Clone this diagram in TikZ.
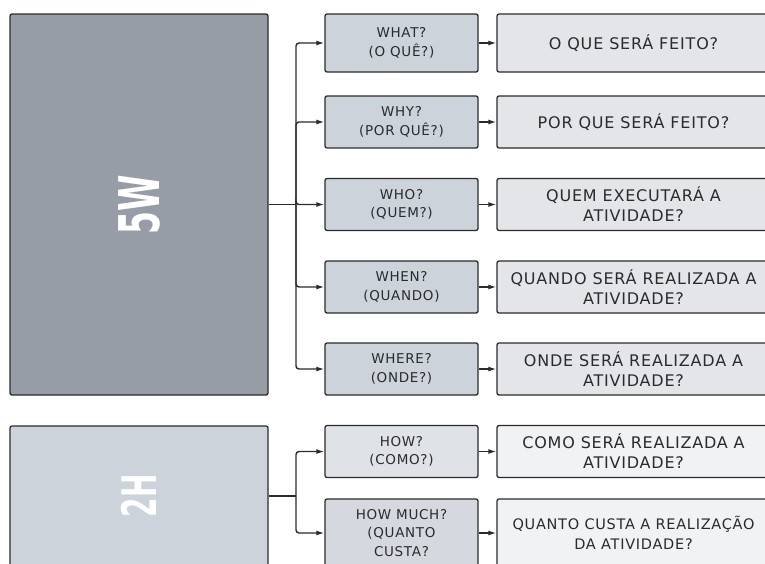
\documentclass[tikz,border=0pt]{standalone}
\usepackage{fontspec}
\setmainfont{DejaVu Sans}
\newfontfamily\comic[LetterSpace=5]{DejaVu Sans}
\usetikzlibrary{arrows.meta}
\definecolor{ink}{HTML}{2B2B2B}
\definecolor{darkfill}{HTML}{979DA6}
\definecolor{askfill}{HTML}{CDD3DB}
\definecolor{answerfill}{HTML}{E3E5E9}
\definecolor{howfill}{HTML}{DFE2E6}
\definecolor{muchfill}{HTML}{D5D9DF}
\definecolor{lightfill}{HTML}{F1F2F4}
\tikzset{
  box/.style={draw=ink, line width=1.3pt, rounded corners=2pt, text=ink, align=center, inner sep=0pt},
  big/.style={box, text=white, minimum width=258pt, font=\bfseries\fontsize{33}{33}\selectfont},
  ask/.style={box, fill=askfill, minimum width=153pt, minimum height=52pt, font=\comic\fontsize{13.5}{18.5}\selectfont},
  answer/.style={box, fill=answerfill, minimum width=273pt, minimum height=52pt, font=\comic\fontsize{16}{20}\selectfont},
  link/.style={->, draw=ink, line width=1.4pt, rounded corners=3pt},
  >={Latex[length=8pt,width=5pt]}
}
\begin{document}
\begin{tikzpicture}[x=1pt, y=-1pt]
  \useasboundingbox (0,0) rectangle (765,563);
  \clip (0,0) rectangle (765,563);
  \node[big, fill=darkfill, minimum height=381pt] (w5) at (139,204.5) {\rotatebox{90}{\scalebox{1}[1.7]{5W}}};
  \node[big, fill=askfill, minimum height=140pt] (h2) at (139,496) {\rotatebox{90}{\scalebox{1}[1.7]{\fontsize{28}{28}\selectfont 2H}}};
  \node[ask, minimum height=58pt] (what) at (401.5,43) {WHAT?\\(O QUÊ?)};
  \node[ask] (why) at (401.5,122) {WHY?\\(POR QUÊ?)};
  \node[ask] (who) at (401.5,204.5) {WHO?\\(QUEM?)};
  \node[ask] (when) at (401.5,287) {WHEN?\\(QUANDO)};
  \node[ask] (where) at (401.5,369) {WHERE?\\(ONDE?)};
  \node[ask, fill=howfill] (how) at (401.5,451.5) {HOW?\\(COMO?)};
  \node[ask, fill=muchfill, minimum height=68pt] (howmuch) at (401.5,533) {HOW MUCH?\\(QUANTO\\CUSTA?};
  \node[answer, minimum height=58pt] (dowhat) at (633.5,43) {O QUE SERÁ FEITO?};
  \node[answer] (dowhy) at (633.5,122) {POR QUE SERÁ FEITO?};
  \node[answer] (dowho) at (633.5,204.5) {QUEM EXECUTARÁ A\\ATIVIDADE?};
  \node[answer] (dowhen) at (633.5,287) {QUANDO SERÁ REALIZADA A\\ATIVIDADE?};
  \node[answer] (dowhere) at (633.5,369) {ONDE SERÁ REALIZADA A\\ATIVIDADE?};
  \node[answer, fill=lightfill] (dohow) at (633.5,451.5) {COMO SERÁ REALIZADA A\\ATIVIDADE?};
  \node[answer, fill=lightfill, minimum height=68pt, font=\comic\fontsize{14.5}{20}\selectfont] (dohowmuch) at (633.5,533) {QUANTO CUSTA A REALIZAÇÃO\\DA ATIVIDADE?};
  \coordinate (fork5) at (296,204.5);
  \coordinate (fork2) at (296,496);
  \draw[link, -] (w5.east) -- (fork5);
  \draw[link, -] (h2.east) -- (fork2);
  \foreach \q in {what,why,who,when,where}
    \draw[link] (fork5) |- (\q.west);
  \foreach \q in {how,howmuch}
    \draw[link] (fork2) |- (\q.west);
  \foreach \q in {what,why,who,when,where,how,howmuch}
    \draw[link] (\q.east) -- (do\q.west);
\end{tikzpicture}
\end{document}
